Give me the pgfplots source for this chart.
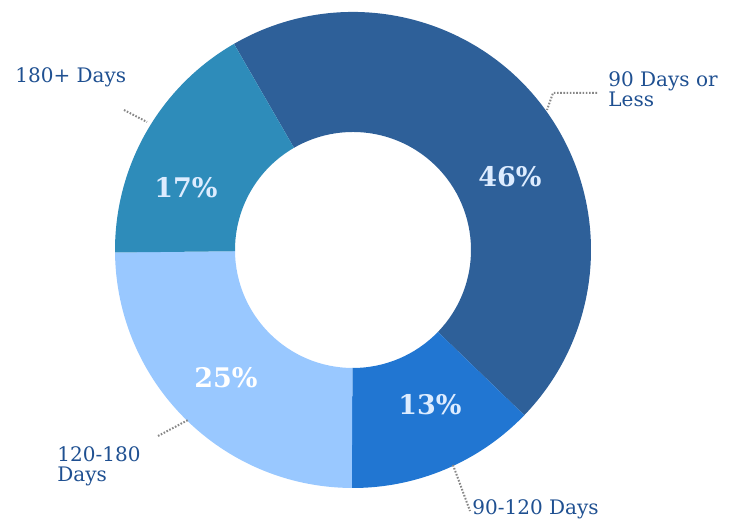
\documentclass[border=0pt]{standalone}
\usepackage{fontspec}
\setmainfont{DejaVu Serif}
\usepackage{pgfplots}
\pgfplotsset{compat=1.18}
\definecolor{cA}{RGB}{46,96,153}
\definecolor{cB}{RGB}{33,118,210}
\definecolor{cC}{RGB}{153,200,255}
\definecolor{cD}{RGB}{46,140,186}
\definecolor{txt}{RGB}{31,80,145}
\definecolor{pct}{RGB}{221,236,255}
\definecolor{lead}{RGB}{135,135,135}
% slice values (percent)
\def\vA{46}\def\vB{13}\def\vC{25}\def\vD{17}
\pgfmathsetmacro\tot{\vA+\vB+\vC+\vD}
\pgfmathsetmacro\aO{120}
\pgfmathsetmacro\aA{\aO-\vA/\tot*360}
\pgfmathsetmacro\aB{\aA-\vB/\tot*360}
\pgfmathsetmacro\aC{\aB-\vC/\tot*360}
\pgfmathsetmacro\aD{\aC-\vD/\tot*360}
\def\Ro{238}\def\Ri{118}
\newcommand{\slice}[3]{%
  \fill[#3] (axis cs:{\Ro*cos(#1)},{\Ro*sin(#1)}) arc[start angle=#1, end angle=#2, radius=119pt]
    -- (axis cs:{\Ri*cos(#2)},{\Ri*sin(#2)}) arc[start angle=#2, end angle=#1, radius=59pt] -- cycle;}
\tikzset{leader/.style={color=lead, line width=1pt, dash pattern=on 0.8pt off 0.8pt, mark=none}}
\begin{document}
\begin{tikzpicture}
\begin{axis}[x=0.5pt, y=0.5pt, xmin=-353, xmax=387, ymin=-272, ymax=250,
  hide axis, clip=false, scale only axis]
\coordinate (bl) at (axis cs:-353,-272);
\coordinate (tr) at (axis cs:387,250);
\slice{\aO}{\aA}{cA}
\slice{\aA}{\aB}{cB}
\slice{\aB}{\aC}{cC}
\slice{\aC}{\aD}{cD}
% leader lines
\addplot[leader] coordinates {(-229,140) (-206,128)};
\addplot[leader] coordinates {(244,157) (200,157) (194,140)};
\addplot[leader] coordinates {(-195,-186) (-165,-170)};
\addplot[leader] coordinates {(100,-215) (117,-261)};
% percentage labels
\node[text=pct, font=\fontsize{13.5}{16}\selectfont\bfseries, inner sep=0pt] at (axis cs:157,73) {46\%};
\node[text=pct, font=\fontsize{13.5}{16}\selectfont\bfseries, inner sep=0pt] at (axis cs:77,-155) {13\%};
\node[text=white, font=\fontsize{13.5}{16}\selectfont\bfseries, inner sep=0pt] at (axis cs:-127,-128) {25\%};
\node[text=pct, font=\fontsize{13.5}{16}\selectfont\bfseries, inner sep=0pt] at (axis cs:-167,62) {17\%};
% category labels
\node[text=txt, font=\fontsize{10}{12}\selectfont, anchor=base west, inner sep=0pt] at (axis cs:-338,167) {180+ Days};
\node[text=txt, font=\fontsize{10}{12}\selectfont, anchor=base west, inner sep=0pt] at (axis cs:255,163) {90 Days or};
\node[text=txt, font=\fontsize{10}{12}\selectfont, anchor=base west, inner sep=0pt] at (axis cs:255,143) {Less};
\node[text=txt, font=\fontsize{10}{12}\selectfont, anchor=base west, inner sep=0pt] at (axis cs:-296,-212) {120-180};
\node[text=txt, font=\fontsize{10}{12}\selectfont, anchor=base west, inner sep=0pt] at (axis cs:-296,-232) {Days};
\node[text=txt, font=\fontsize{10}{12}\selectfont, anchor=base west, inner sep=0pt] at (axis cs:119,-265) {90-120 Days};
\end{axis}
\pgfresetboundingbox
\path[use as bounding box] (bl) rectangle (tr);
\end{tikzpicture}
\end{document}
